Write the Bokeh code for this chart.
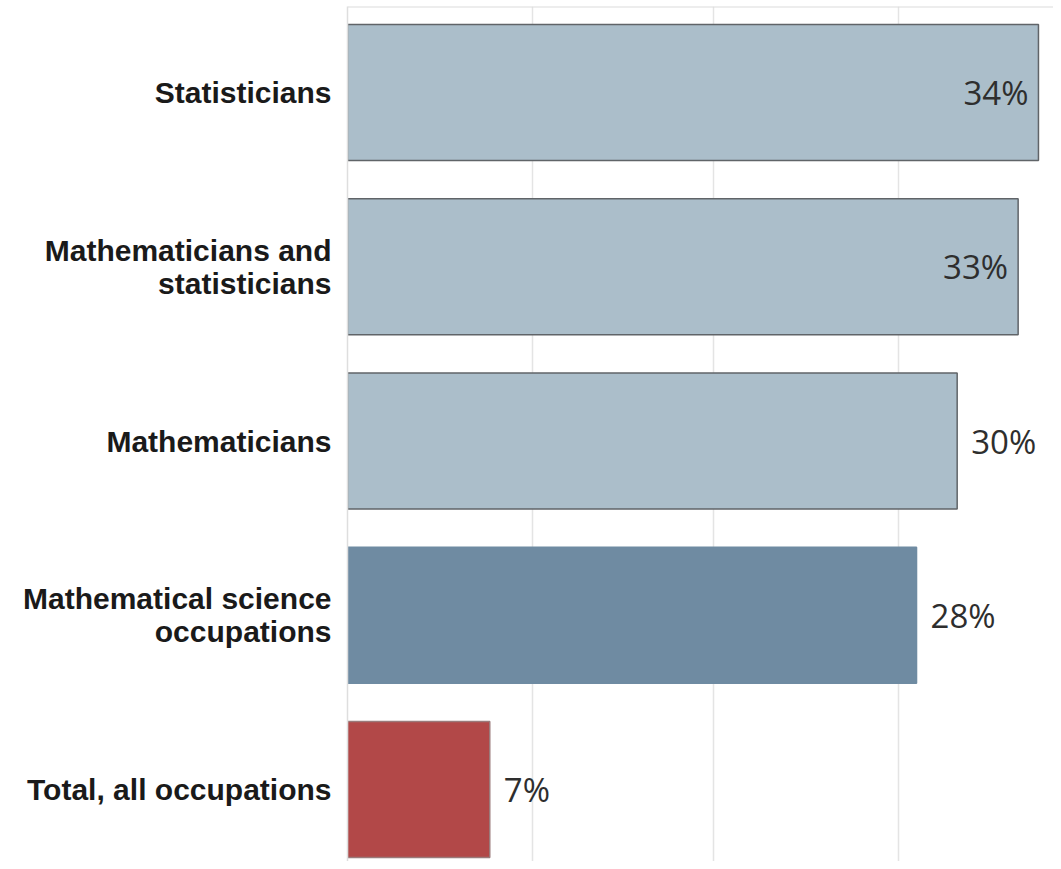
from bokeh.plotting import figure
from bokeh.models import Range1d, FixedTicker, ColumnDataSource, Span, Grid
from bokeh.core.properties import value
from bokeh.embed import file_html
from bokeh.resources import INLINE

categories = [
    "Statisticians",
    "Mathematicians and\nstatisticians",
    "Mathematicians",
    "Mathematical science\noccupations",
    "Total, all occupations",
]
values = [34, 33, 30, 28, 7]
grid_ticks = [9.1, 18.0, 27.1]
bar_colors = ["#abbeca", "#abbeca", "#abbeca", "#6f8ba2", "#b24848"]
bar_lines = ["#606468", "#606468", "#606468", "#6f8ba2", "#9a7a7a"]

idx = list(range(len(categories)))
inside = [v > 31 for v in values]

src = ColumnDataSource(dict(
    y=idx,
    right=values,
    color=bar_colors,
    line=bar_lines,
    label=[f"{v}%" for v in values],
    xoff=[-10 if i else 14 for i in inside],
    align=["right" if i else "left" for i in inside],
))

p = figure(
    width=1053, height=861,
    output_backend="svg", toolbar_location=None,
    x_range=Range1d(0, 34.74), y_range=Range1d(4.413, -0.4935),
    x_axis_location=None,
    min_border_left=347, min_border_right=0, min_border_top=6, min_border_bottom=0,
    outline_line_color=None,
)
p.grid.visible = False
p.add_layout(Grid(dimension=0, ticker=FixedTicker(ticks=grid_ticks),
                  grid_line_color="#e4e4e4", grid_line_width=1.5))

p.hbar(y="y", left=0, right="right", height=0.78, source=src,
       fill_color="color", line_color="line", line_width=1.5)

p.text(x="right", y="y", text="label", source=src, x_offset="xoff",
       text_align="align", text_baseline="middle",
       text_font=value("Open Sans"), text_font_size="33px", text_color="#2e2e2e")

p.add_layout(Span(location=-0.4935, dimension="width", line_color="#dcdcdc", line_width=2))

ax = p.yaxis[0]
ax.ticker = FixedTicker(ticks=idx)
ax.major_label_overrides = {i: c for i, c in zip(idx, categories)}
ax.major_tick_line_color = None
ax.minor_tick_line_color = None
ax.axis_line_color = "#dedede"
ax.axis_line_width = 1.5
ax.major_label_standoff = 10
ax.major_label_text_font = "Liberation Sans"
ax.major_label_text_font_style = "bold"
ax.major_label_text_font_size = "30px"
ax.major_label_text_line_height = 1.0
ax.major_label_text_color = "#1a1a1a"

open("out.html", "w").write(file_html(p, INLINE))
